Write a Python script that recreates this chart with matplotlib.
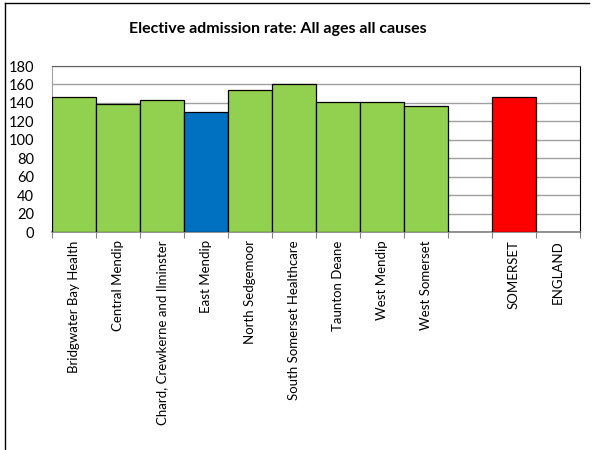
import matplotlib.pyplot as plt
from matplotlib.lines import Line2D

# podaci s grafa
kategorije = ["Bridgwater Bay Health", "Central Mendip", "Chard, Crewkerne and Ilminster",
              "East Mendip", "North Sedgemoor", "South Somerset Healthcare",
              "Taunton Deane", "West Mendip", "West Somerset", "", "SOMERSET", "ENGLAND"]
vrijednosti = [146, 138.5, 143, 130, 154.5, 161, 141.5, 141, 136.5, 0, 146, 0]
boje = ["#92d050"] * 3 + ["#0070c0"] + ["#92d050"] * 5 + ["white", "#ff0000", "white"]

plt.rcParams['font.family'] = ['Lato', 'DejaVu Sans']

fig = plt.figure(figsize=(5.98, 4.5), dpi=100)
ax = fig.add_axes([52 / 598, 1 - 232 / 450, 528 / 598, 166 / 450])

x = list(range(len(kategorije)))
for i in x:
    if kategorije[i] in ("", "ENGLAND"):
        continue
    ax.bar(i, vrijednosti[i], width=1.0, color=boje[i], edgecolor="black", linewidth=0.9, zorder=3)

ax.set_xlim(-0.5, len(kategorije) - 0.5)
ax.set_ylim(0, 180)
ax.set_yticks(range(0, 181, 20))
ax.tick_params(axis="y", length=0, labelsize=10.5, pad=13)
ax.set_xticks([i - 0.5 for i in x] + [len(kategorije) - 0.5])
ax.set_xticklabels([])
ax.tick_params(axis="x", length=4, color="#808080")

# oznake kategorija
for i, k in enumerate(kategorije):
    if k == "":
        continue
    ax.text(i, -9, k, rotation=90, ha="center", va="top", fontsize=9.5)

ax.grid(axis="y", color="#a0a0a0", linewidth=1, zorder=0)
ax.spines["left"].set_color("#a0a0a0")
ax.spines["bottom"].set_color("#808080")
ax.spines["top"].set_color("#606060")
ax.spines["right"].set_color("black")
ax.spines["bottom"].set_linewidth(1.2)

fig.text(278 / 598, 1 - 29 / 450, "Elective admission rate: All ages all causes",
         ha="center", va="center", fontsize=11.5, fontweight="bold")

# okvir grafa
fig.add_artist(Line2D([5 / 598, 589 / 598], [1 - 3 / 450, 1 - 3 / 450], color="black", linewidth=1))
fig.add_artist(Line2D([5 / 598, 5 / 598], [1 - 3 / 450, 0], color="black", linewidth=1))

fig.savefig("out.png", dpi=100)
